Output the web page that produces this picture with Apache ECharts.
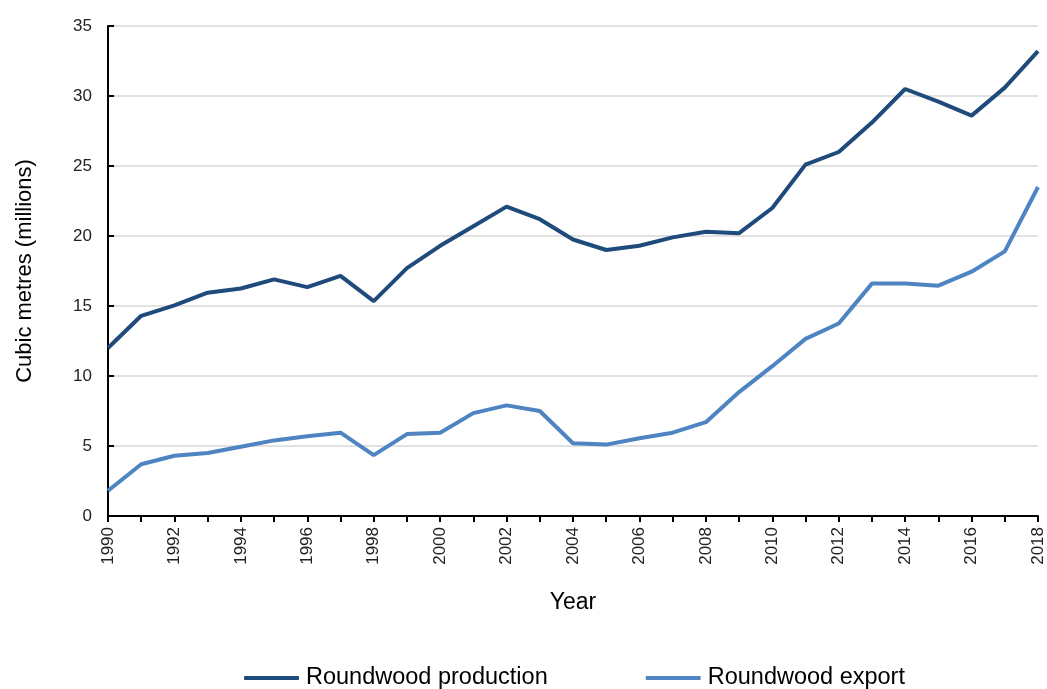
<!DOCTYPE html>
<html><head><meta charset="utf-8">
<script src="https://cdn.jsdelivr.net/npm/echarts@6/dist/echarts.min.js"></script>
<style>html,body{margin:0;padding:0;background:#fff}#c{width:1047px;height:689px}</style>
</head><body><div id="c"></div>
<script>
const years = [1990,1991,1992,1993,1994,1995,1996,1997,1998,1999,2000,2001,2002,2003,2004,2005,2006,2007,2008,2009,2010,2011,2012,2013,2014,2015,2016,2017,2018];
const production = [12.0,14.3,15.05,15.95,16.25,16.9,16.35,17.15,15.35,17.7,19.3,20.7,22.1,21.2,19.75,19.0,19.3,19.9,20.3,20.2,22.0,25.1,26.0,28.1,30.5,29.6,28.6,30.6,33.2];
const exportVals = [1.8,3.7,4.3,4.5,4.95,5.4,5.7,5.95,4.35,5.85,5.95,7.35,7.9,7.5,5.2,5.1,5.55,5.95,6.7,8.85,10.7,12.65,13.75,16.6,16.6,16.45,17.45,18.9,23.5];
const seriesNames = ['Roundwood production','Roundwood export'];
const font = 'Liberation Sans, Arial, sans-serif';
const chart = echarts.init(document.getElementById('c'));
chart.setOption({
  animation:false,
  grid:{left:108,right:9,top:26,bottom:173,containLabel:false},
  legend:{top:666,left:244,itemGap:98,itemWidth:55,itemHeight:4,icon:'roundRect',padding:0,
    textStyle:{fontFamily:font,fontSize:23.5,color:'#000',padding:[0,0,0,2]},data:seriesNames},
  xAxis:{type:'category',data:years.map(String),boundaryGap:false,
    name:'Year',nameLocation:'middle',nameGap:75,
    nameTextStyle:{fontFamily:font,fontSize:23,color:'#000'},
    axisLine:{lineStyle:{color:'#000',width:2}},
    axisTick:{show:true,interval:0,length:6,lineStyle:{color:'#000',width:2}},
    axisLabel:{interval:1,rotate:90,fontFamily:font,fontSize:17,color:'#222',margin:11},
    splitLine:{show:false}},
  yAxis:{type:'value',min:0,max:35,interval:5,
    name:'Cubic metres (millions)',nameLocation:'middle',nameGap:72,nameRotate:90,
    nameTextStyle:{fontFamily:font,fontSize:22,color:'#000'},
    axisLine:{show:true,lineStyle:{color:'#000',width:2}},
    axisTick:{show:true,inside:true,length:6,lineStyle:{color:'#000',width:2}},
    axisLabel:{fontFamily:font,fontSize:17,color:'#222',margin:16},
    splitLine:{lineStyle:{color:'#d9d9d9',width:1.5}}},
  series:[
    {name:seriesNames[0],type:'line',data:production,showSymbol:false,symbol:'none',
     lineStyle:{color:'#1f4a7c',width:4},itemStyle:{color:'#1f4a7c'}},
    {name:seriesNames[1],type:'line',data:exportVals,showSymbol:false,symbol:'none',
     lineStyle:{color:'#4f84c2',width:4},itemStyle:{color:'#4f84c2'}}
  ]
});
</script></body></html>
